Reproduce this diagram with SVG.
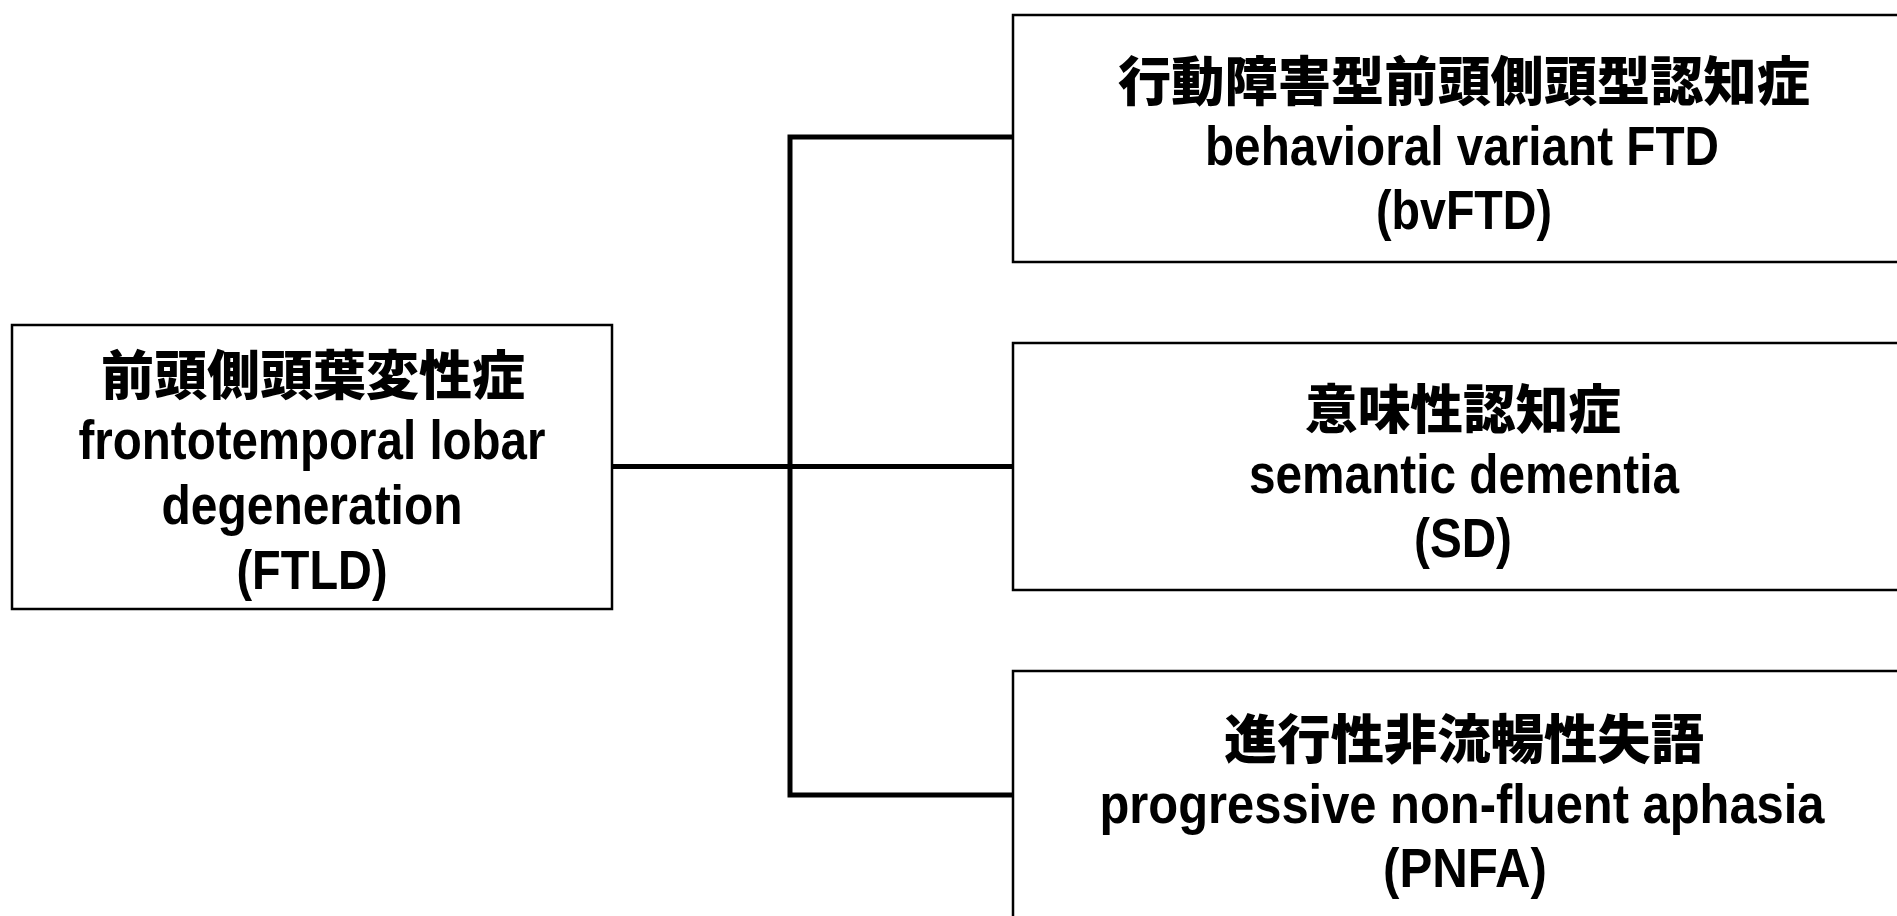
<svg xmlns="http://www.w3.org/2000/svg" width="1897" height="916" viewBox="0 0 1897 916">
<style>
.box{fill:#fff;stroke:#000;stroke-width:2.5}
.conn{fill:none;stroke:#000;stroke-width:5;stroke-linecap:square;stroke-linejoin:miter}
.jp{font-family:"Noto Sans CJK JP","Noto Sans CJK SC",sans-serif;font-weight:900;font-size:53px;fill:#000}
.en{font-family:"Liberation Sans",Arial,sans-serif;font-weight:bold;font-size:55px;fill:#000}
</style>
<rect width="1897" height="916" fill="#fff"/>
<g id="connectors">
<path class="conn" d="M612,466.5 H1013"/>
<path class="conn" d="M1013,137 H790 V795 H1013"/>
</g>
<g id="node-ftld">
<rect class="box" x="12" y="325" width="600" height="284"/>
<text class="jp" x="313" y="395" text-anchor="middle" textLength="424" lengthAdjust="spacingAndGlyphs">前頭側頭葉変性症</text>
<text class="en" x="312" y="459" text-anchor="middle" textLength="467" lengthAdjust="spacingAndGlyphs">frontotemporal lobar</text>
<text class="en" x="312" y="524" text-anchor="middle" textLength="301" lengthAdjust="spacingAndGlyphs">degeneration</text>
<text class="en" x="312" y="589" text-anchor="middle" textLength="151" lengthAdjust="spacingAndGlyphs">(FTLD)</text>
</g>
<g id="node-bvftd">
<rect class="box" x="1013" y="15" width="920" height="247"/>
<text class="jp" x="1464" y="101" text-anchor="middle" textLength="692" lengthAdjust="spacingAndGlyphs">行動障害型前頭側頭型認知症</text>
<text class="en" x="1462" y="165" text-anchor="middle" textLength="514" lengthAdjust="spacingAndGlyphs">behavioral variant FTD</text>
<text class="en" x="1464" y="229" text-anchor="middle" textLength="176" lengthAdjust="spacingAndGlyphs">(bvFTD)</text>
</g>
<g id="node-sd">
<rect class="box" x="1013" y="343" width="920" height="247"/>
<text class="jp" x="1463" y="429" text-anchor="middle" textLength="316" lengthAdjust="spacingAndGlyphs">意味性認知症</text>
<text class="en" x="1464" y="493" text-anchor="middle" textLength="430" lengthAdjust="spacingAndGlyphs">semantic dementia</text>
<text class="en" x="1463" y="557" text-anchor="middle" textLength="98" lengthAdjust="spacingAndGlyphs">(SD)</text>
</g>
<g id="node-pnfa">
<rect class="box" x="1013" y="671" width="920" height="300"/>
<text class="jp" x="1464" y="759" text-anchor="middle" textLength="480" lengthAdjust="spacingAndGlyphs">進行性非流暢性失語</text>
<text class="en" x="1462" y="823" text-anchor="middle" textLength="725" lengthAdjust="spacingAndGlyphs">progressive non-fluent aphasia</text>
<text class="en" x="1465" y="887" text-anchor="middle" textLength="164" lengthAdjust="spacingAndGlyphs">(PNFA)</text>
</g>
</svg>
